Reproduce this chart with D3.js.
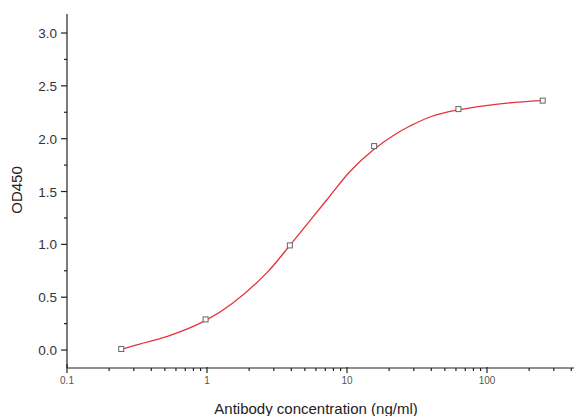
<!DOCTYPE html>
<html>
<head>
<meta charset="utf-8">
<script src="https://cdn.jsdelivr.net/npm/d3@7"></script>
<style>
  body { margin: 0; background: #fff; }
  svg { display: block; font-family: "Liberation Sans", Arial, sans-serif; }
</style>
</head>
<body>
<div id="chart"></div>
<script>
// measured points (ng/ml, OD450)
var conc = [0.244, 0.977, 3.906, 15.625, 62.5, 250];
var od = [0.01, 0.29, 0.99, 1.93, 2.28, 2.36];

// fitted curve
var fitConc = [0.243, 0.33, 0.515, 0.98, 1.53, 2.67, 3.85, 7.16, 10.5, 15.6, 22, 28.2, 40, 60.8, 124, 243];
var fitOd = [0.005, 0.057, 0.126, 0.28, 0.445, 0.73, 0.98, 1.42, 1.69, 1.90, 2.04, 2.12, 2.21, 2.27, 2.33, 2.36];

var yTicks = [0, 0.5, 1.0, 1.5, 2.0, 2.5, 3.0];
var yMinor = [0.25, 0.75, 1.25, 1.75, 2.25, 2.75];
var xTicks = [0.1, 1, 10, 100];

var width = 574, height = 416;

var svg = d3.select("#chart").append("svg")
    .attr("width", width)
    .attr("height", height);

var x = d3.scaleLog().domain([0.1, 1000]).range([67, 627]);
var y = d3.scaleLinear().domain([-0.17, 3.18]).range([368, 14]);

// x minor ticks
var xMinor = [];
[0.1, 1, 10, 100].forEach(function (d) {
    for (var i = 2; i <= 9; i++) xMinor.push(d * i);
});

var ax = svg.append("g").attr("stroke", "#222").attr("stroke-width", 1.2);

// axis lines
ax.append("line").attr("x1", 67).attr("x2", width).attr("y1", 368).attr("y2", 368);
ax.append("line").attr("x1", 67).attr("x2", 67).attr("y1", 14).attr("y2", 368);

ax.selectAll(".xminor").data(xMinor).enter().append("line")
    .attr("x1", function (d) { return x(d); })
    .attr("x2", function (d) { return x(d); })
    .attr("y1", 368).attr("y2", 371);

ax.selectAll(".xmajor").data(xTicks).enter().append("line")
    .attr("x1", function (d) { return x(d); })
    .attr("x2", function (d) { return x(d); })
    .attr("y1", function (d, i) { return i == 0 ? 364 : 367; })
    .attr("y2", 373);

ax.selectAll(".ymajor").data(yTicks).enter().append("line")
    .attr("x1", 61).attr("x2", 67)
    .attr("y1", function (d) { return y(d); })
    .attr("y2", function (d) { return y(d); });

ax.selectAll(".yminor").data(yMinor).enter().append("line")
    .attr("x1", 64).attr("x2", 67)
    .attr("y1", function (d) { return y(d); })
    .attr("y2", function (d) { return y(d); });

// tick labels
svg.selectAll(".ylab").data(yTicks).enter().append("text")
    .attr("x", 57)
    .attr("y", function (d) { return y(d) + 5; })
    .attr("text-anchor", "end")
    .attr("font-size", 13.5)
    .attr("fill", "#333")
    .text(function (d) { return d.toFixed(1); });

svg.selectAll(".xlab").data(xTicks).enter().append("text")
    .attr("x", function (d) { return x(d); })
    .attr("y", 384)
    .attr("text-anchor", "middle")
    .attr("font-size", 10)
    .attr("fill", "#555")
    .text(function (d) { return d; });

// axis titles
svg.append("text")
    .attr("x", 316).attr("y", 414)
    .attr("text-anchor", "middle")
    .attr("font-size", 15)
    .attr("fill", "#222")
    .text("Antibody concentration (ng/ml)");

svg.append("text")
    .attr("transform", "translate(22,190) rotate(-90)")
    .attr("text-anchor", "middle")
    .attr("font-size", 15)
    .attr("fill", "#222")
    .text("OD450");

// fit curve
var fit = fitConc.map(function (c, i) { return [c, fitOd[i]]; });
var line = d3.line()
    .x(function (d) { return x(d[0]); })
    .y(function (d) { return y(d[1]); })
    .curve(d3.curveCatmullRom.alpha(0.5));

svg.append("path")
    .datum(fit)
    .attr("d", line)
    .attr("fill", "none")
    .attr("stroke", "#e8323c")
    .attr("stroke-width", 1.3);

// markers
var pts = conc.map(function (c, i) { return [c, od[i]]; });
svg.selectAll(".pt").data(pts).enter().append("rect")
    .attr("x", function (d) { return x(d[0]) - 2.5; })
    .attr("y", function (d) { return y(d[1]) - 2.5; })
    .attr("width", 5).attr("height", 5)
    .attr("fill", "#fff")
    .attr("stroke", "#666")
    .attr("stroke-width", 1);
</script>
</body>
</html>
